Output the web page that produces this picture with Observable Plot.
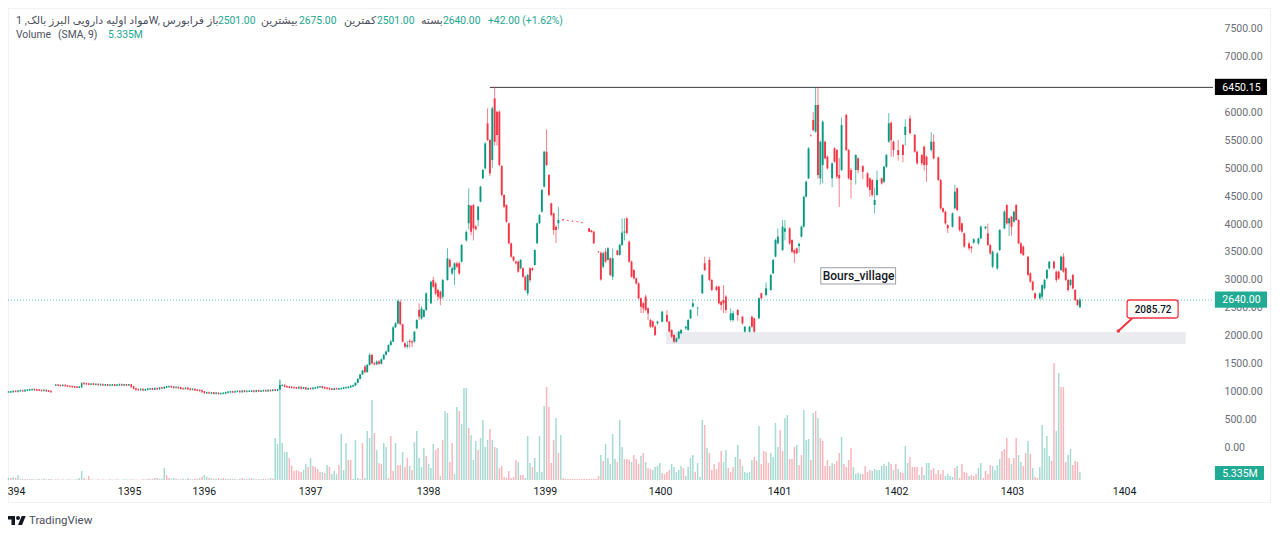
<!DOCTYPE html>
<html lang="fa"><head><meta charset="utf-8">
<script src="https://cdn.jsdelivr.net/npm/d3@7"></script>
<script src="https://cdn.jsdelivr.net/npm/@observablehq/plot@0.6"></script>
<style>
html,body{margin:0;background:#fff;font-family:Roboto,"Noto Sans","DejaVu Sans",sans-serif}
#page{position:relative;width:1280px;height:534px;overflow:hidden}
#frame{position:absolute;left:8px;top:8px;width:1263px;height:495px;border:1px solid #f0f2f5;box-sizing:border-box}
.h{position:absolute;font-size:10.3px;line-height:12px;white-space:nowrap;color:#4c505c;unicode-bidi:isolate;z-index:3}
.fa{font-size:10.9px}
.v{color:#22a68f}
#logo{position:absolute;left:8px;top:513px;display:flex;align-items:center;color:#4a4e5a;font-size:11.5px;z-index:3}
</style></head><body>
<div id="page"><div id="frame"></div>
<div class="h fa" style="left:16px;top:15px;direction:ltr">مواد اولیه دارویی البرز بالک, 1W, فرابورس</div>
<div class="h fa" style="left:207px;top:15px">باز</div><div class="h v" style="left:218px;top:15px">2501.00</div>
<div class="h fa" style="left:261px;top:15px">بیشترین</div><div class="h v" style="left:299px;top:15px">2675.00</div>
<div class="h fa" style="left:344px;top:15px">کمترین</div><div class="h v" style="left:377px;top:15px">2501.00</div>
<div class="h fa" style="left:421px;top:15px">بسته</div><div class="h v" style="left:443px;top:15px">2640.00</div>
<div class="h v" style="left:488px;top:15px">+42.00 (+1.62%)</div>
<div class="h" style="left:16px;top:29px">Volume</div><div class="h" style="left:58px;top:29px">(SMA, 9)</div>
<div class="h v" style="left:108px;top:29px">5.335M</div>
<div id="logo"><svg width="18" height="12" viewBox="0 0 36 24" style="margin-right:3px"><path fill="#131722" d="M14 22H7V11H0V4h14v18zM28 22h-8l7.5-18h8L28 22z"/><circle cx="20" cy="8" r="4" fill="#131722"/></svg>TradingView</div>
</div>
<script>
// Quiet weekly closes, weeks 0-146 (null = no drawn body in this series)
const quietCloses = [
985,990,1000,995,1005,1010,1005,1015,1020,1025,
1030,1025,1020,1015,1010,1015,1005,1000,990,null,
1110,1105,1100,1105,1095,1090,1085,1080,1075,1070,
1075,1140,1135,1130,1125,1130,1120,1125,1115,1120,
1110,1115,1105,1110,1115,1105,1110,1120,1110,1115,
1110,1115,1080,1050,1030,1025,1035,1020,1030,1040,
1045,1035,1050,1040,1060,1055,1070,1080,1085,1075,
1065,1070,1060,1050,1045,1055,1040,1030,1035,1020,
1015,1010,990,970,975,965,970,960,965,955,
960,965,975,985,990,985,995,1000,990,1005,
995,1000,1000,1005,995,1010,1000,1005,1010,1005,
1015,1010,1020,1015,1025,null,1105,1085,1075,1070,
1065,1060,1055,1070,1050,1060,1040,1050,1045,1055,
1060,1075,1080,1065,1055,1050,1040,1035,1045,1040,
1045,1050,1060,1065,1075,1090,1100];

const weeks = [
115,147,148,149,150,151,152,153,154,155,
156,157,158,159,160,161,162,163,164,165,
166,167,168,169,170,171,172,173,174,175,
176,177,179,180,181,182,183,184,186,187,
188,189,190,191,192,194,195,196,197,198,
199,200,201,202,203,204,205,206,207,208,
209,210,211,212,213,214,215,216,217,218,
219,220,221,222,223,224,225,226,227,228,
229,230,231,232,233,235,237,239,241,243,
246,247,248,250,251,252,253,254,255,256,
258,259,260,261,262,263,264,265,266,267,
268,269,270,271,272,273,274,275,277,279,
280,281,282,283,284,285,287,288,289,290,
292,294,295,297,298,300,301,302,303,304,
306,307,309,311,312,314,315,316,318,319,
321,323,324,325,326,328,329,331,332,333,
334,335,336,337,338,339,340,341,342,343,
344,345,346,347,349,350,351,352,353,355,
356,357,359,360,362,364,365,366,367,368,
370,371,372,373,374,375,377,379,380,382,
384,385,387,388,389,391,392,394,395,396,
397,398,400,401,402,403,404,405,407,408,
409,411,412,414,415,416,417,419,420,422,
423,424,425,426,427,428,429,430,432,433,
434,435,437,438,439,440,441,443,444,445,
446,447,448,449,450,451,452,453,454];
const opens = [
1030,1100,1150,1220,1300,1440,1340,1470,1650,1500,
1480,1530,1490,1570,1650,1707,1827,1887,2143,2215,
2600,2197,1857,1797,1900,1890,1887,2125,2454,2300,
2330,2454,2573,2990,2930,2810,2780,2690,2990,3350,
3110,3170,3290,3290,3320,3700,4006,4320,4335,3950,
4066,4394,4812,4991,5797,5498,5140,6245,6006,6006,
5033,4513,4334,4006,3648,3409,3320,3320,3200,3200,
3050,2752,3200,3200,3260,3648,4006,4215,4663,5289,
4872,4364,4185,3946,4006,4080,4060,4050,4040,4020,
3916,3880,3856,3500,3480,3230,3498,3350,3380,3050,
3518,3440,3618,3840,4095,3677,3320,3170,3020,2930,
2663,2573,2692,2484,2275,2250,2155,2215,2245,2364,
2245,2096,2006,1887,1946,2036,2125,2096,2305,2514,
2484,2752,3290,3349,2991,2872,2872,2603,2633,2692,
2275,2275,2454,2334,2066,2066,2334,2304,2304,2752,
2722,2812,3110,3409,3647,3528,3856,3916,3707,3528,
3558,3600,3767,3946,4483,4812,5588,5856,5648,6125,
4812,5050,5468,5200,4812,5349,5319,4872,4961,5946,
5319,4961,4961,5170,5030,4902,4812,4782,4334,4513,
4812,4752,5021,5468,5809,5468,5319,5409,5588,5886,
5588,5289,5230,5379,5200,5319,5468,5188,4782,4275,
4215,3976,3946,4275,4633,4125,4006,3827,3647,3588,
3660,3647,3737,3916,3826,3618,3230,3200,3528,3916,
4334,4006,4125,4036,4334,4066,3647,3588,3409,3110,
2961,2752,2663,2692,2842,3021,3200,3319,3140,3140,
3170,3409,3200,2991,2901,3080,2812,2633,2501];
const closes = [
1110,1150,1220,1300,1370,1340,1470,1650,1500,1480,
1530,1490,1570,1650,1710,1827,1890,2143,2215,2615,
2200,1887,1797,1830,1880,1870,2065,2275,2334,2480,
2454,2752,2960,2870,2750,2690,2660,2990,3380,3230,
3200,3290,3230,3110,3618,3850,4335,3856,3916,3900,
4305,4662,4961,5439,5498,4901,6065,5468,5588,5051,
4513,4304,4036,3648,3409,3340,3290,3140,3350,3050,
2812,3080,2990,3170,3528,4006,4155,4603,5289,5050,
4513,4155,3886,3886,4066,4060,4050,4040,4030,4010,
3856,3850,3648,3490,3000,3470,3320,3558,3080,3380,
3440,3620,3840,3860,3830,3320,3050,3020,2930,2663,
2513,2484,2454,2394,2155,2155,2006,2245,2424,2245,
2066,1976,1887,1946,2066,2096,2155,2275,2454,2573,
2495,3080,3170,2991,2812,2812,2573,2543,2573,2454,
2394,2394,2364,2215,2155,2155,2155,2066,2663,2663,
2842,3080,3349,3707,3767,3946,3916,3647,3498,3468,
3468,3640,3946,4483,4752,5349,5580,5677,6125,4872,
5468,5827,5170,4991,5080,5110,4842,4812,5767,5319,
4812,4782,5230,4961,4931,4663,4603,4513,4424,4782,
4722,5021,5230,5797,5498,5319,5230,5230,5737,5618,
5289,5080,5080,5050,5050,5468,5170,4782,4275,4215,
4006,3916,4185,4573,4245,3886,3856,3588,3558,3558,
3720,3737,3946,3946,3618,3468,3498,3468,3886,4215,
4006,4095,3946,4215,4066,3647,3468,3439,3080,2961,
2812,2663,2752,2901,2991,3170,3319,3200,2991,3021,
3409,3140,2991,2812,2991,2842,2633,2543,2640];
const highs = [
1210,1160,1230,1310,1380,1470,1490,1680,1670,1520,
1550,1560,1590,1670,1730,1840,1920,2170,2240,2640,
2640,2210,1880,1900,1930,1920,2080,2290,2573,2520,
2470,2770,2980,3050,2960,2840,2800,3010,3560,3380,
3230,3310,3320,3320,3640,3880,4633,4340,4350,3980,
4320,4680,4980,5460,6065,5520,6100,6450,6020,6030,
5050,4530,4350,4020,3660,3420,3340,3340,3370,3220,
3070,3100,3220,3220,3540,4020,4170,4620,5310,5690,
4890,4380,4200,3970,4304,4085,4065,4055,4045,4025,
3925,3890,3870,3510,3500,3500,3560,3580,3400,3560,
3530,3640,4095,4095,4120,3700,3340,3190,3040,2950,
2680,2600,2730,2500,2300,2270,2180,2260,2440,2450,
2260,2110,2020,1960,2080,2110,2170,2290,2470,2650,
2510,3100,3410,3400,3010,2890,2890,2620,2900,2720,
2484,2440,2470,2350,2170,2170,2350,2320,2680,2770,
2950,3100,3370,3730,3916,4066,4066,3940,3720,3540,
3570,3660,3970,4500,4770,5370,5600,6000,6450,6450,
5490,5850,5490,5220,5100,5370,5340,5180,5900,5970,
5340,5000,5240,5190,5050,4920,4830,4800,4650,4950,
4830,5040,5250,5980,5830,5490,5500,5430,5870,5940,
5610,5310,5250,5400,5220,5640,5600,5200,4800,4290,
4230,3990,4200,4700,4650,4140,4020,3840,3680,3600,
3740,3750,3970,3960,4000,3640,3520,3490,3900,4240,
4350,4110,4140,4230,4350,4080,3670,3610,3420,3130,
2980,2770,2770,2910,3010,3190,3330,3340,3160,3160,
3430,3470,3220,3010,3010,3100,2830,2650,2675];
const lows = [
1020,1090,1140,1210,1290,1320,1330,1460,1480,1460,
1470,1470,1480,1560,1640,1700,1810,1880,2130,2200,
2180,1870,1770,1760,1780,1790,1870,2110,2275,2280,
2320,2440,2560,2850,2720,2630,2540,2650,2980,3210,
3080,2900,3200,3080,3300,3680,3900,3790,3700,3880,
3950,4380,4800,4970,5480,4850,5000,5400,5400,5030,
4490,4280,4010,3630,3390,3320,3270,3120,3180,3030,
2790,2710,2950,3150,3250,3640,3990,4200,4650,5030,
4490,4130,3800,3650,3900,4055,4045,4035,4025,4005,
3850,3840,3640,3480,2980,3200,3300,3340,3060,2990,
3430,3430,3600,3700,3810,3300,3030,3000,2910,2640,
2400,2400,2430,2270,2130,2130,1990,2190,2230,2230,
2050,1950,1860,1870,1930,2020,2100,2080,2290,2500,
2350,2740,3150,2970,2790,2790,2550,2450,2400,2400,
2250,2240,2260,2190,2050,2050,2140,2050,2290,2640,
2700,2800,3100,3400,3630,3510,3700,3620,3470,3300,
3450,3480,3750,3930,4470,4800,5560,5650,5630,4800,
4700,4720,5150,4970,4650,5090,4800,4300,4940,5300,
4790,4450,4700,4900,4800,4640,4480,4480,4185,4500,
4700,4730,5000,5450,5200,5200,5130,5100,5400,5600,
5270,5060,5040,4950,4750,5290,5150,4760,4250,4190,
3980,3830,3930,4260,4220,3860,3830,3570,3520,3480,
3640,3620,3720,3900,3600,3440,3200,3170,3510,3900,
3980,3780,3790,4020,4050,3630,3450,3420,3060,2940,
2790,2640,2640,2640,2820,3000,3180,3180,2950,2990,
3150,3120,2970,2780,2880,2820,2610,2520,2501];

// Volume in millions, one per week from week 0
const volumes = [
.3,.3,.45,.3,.75,.15,.15,.1,.15,.1,
.15,.1,.1,.15,.1,.2,.1,.15,.15,.05,
.1,.1,.05,.1,.05,.1,.1,.05,.1,.1,
.3,1.35,.3,.1,.6,.1,.05,.05,.1,.05,
.1,.05,.05,.1,.05,.05,.1,.05,.05,.1,
.1,.05,.1,.1,.05,.05,.05,.1,.1,.15,
.2,.2,.3,.3,.2,.2,1.8,.75,.3,.2,
.3,.2,.1,.1,.2,.1,.3,.15,.1,.2,
.2,.3,.5,.75,.5,.3,.3,.2,.2,.3,
.2,.3,.2,.15,.2,.15,.2,.1,.15,.3,
.2,.15,.2,.3,.2,.1,.15,.1,.2,.1,
.1,.3,.2,
6.3,5.4,15,5.55,4.2,4.2,3.3,2.1,1.35,1.5,
1.35,1.2,1.5,2.4,1.95,3.3,2.1,1.95,1.65,1.2,
1.2,1.05,2.25,1.95,.9,1.35,.9,2.25,6.9,1.5,
5.55,3,3,.15,6,.3,.15,5.55,.3,7.35,
6.3,12,7.05,4.5,2.55,2.4,5.55,4.95,.3,6.6,
1.35,5.55,2.25,2.25,4.2,1.95,3.3,2.1,1.5,5.7,
7.35,3.3,1.95,4.8,3.6,2.4,1.8,5.4,4.5,4.8,
.6,6,10.35,10.05,2.7,5.55,.9,10.95,10.35,8.4,
13.8,13.8,7.8,6.75,3,5.85,4.5,6.3,9,4.95,
6,7.65,6,4.95,4.8,1.8,2.1,.45,.3,1.35,
.3,.45,3,2.7,.75,.75,.3,6.6,2.55,1.95,
3.3,1.2,6.6,1.2,11.1,13.95,10.95,2.55,6,9.3,
4.05,6.75,.3,
.15,.15,.15,.15,.15,.15,.15,.15,.15,.15,.15,.15,.15,.15,
.6,3.75,2.85,5.4,3.3,2.4,6.9,3.15,2.7,9,
4.95,3.15,3.15,3,2.7,3.75,3.15,2.4,
3.6,4.05,2.7,1.8,1.65,1.5,1.95,2.1,2.55,1.05,
.9,1.2,1.5,2.4,1.95,1.2,1.5,2.1,1.8,.6,
1.95,3.3,3.75,1.2,2.55,.45,9,8.25,4.8,4.05,
1.5,2.4,1.65,2.7,4.35,2.7,4.5,1.8,1.2,1.95,
3.45,5.25,3.15,2.1,1.2,1.05,1.2,3,3.45,2.85,
8.1,2.4,4.35,4.2,2.55,4.05,3.45,8.55,4.95,7.5,
4.35,9.3,9.75,3.15,3.15,4.95,5.25,2.25,3.75,10.5,
6,6.15,3,10.05,10.35,9.3,6.3,5.85,2.1,3,
2.1,2.55,2.4,2.85,4.05,6.45,2.4,1.95,3,4.8,
1.95,.9,1.05,.9,.9,2.1,1.2,1.5,1.35,1.65,
1.5,1.5,2.1,2.4,2.1,2.7,2.4,1.5,2.4,1.65,
1.2,1.05,5.1,2.55,3.45,1.95,1.95,1.95,.75,1.95,
.75,2.55,2.55,1.5,1.8,.9,1.5,.9,1.5,.6,
.9,.6,.45,1.8,2.1,.3,2.4,1.2,1.05,.6,
.75,.6,.9,1.8,2.55,.3,1.35,.9,2.25,2.1,
1.5,2.25,3.15,4.35,4.65,6.3,3.3,2.4,3.3,6.3,
3.75,2.7,2.1,4.05,5.85,3.9,1.8,.45,.3,1.95,
8.25,4.8,6.6,3.6,2.85,17.55,7.35,16.05,13.95,13.95,
2.7,3.75,4.65,2.25,2.85,2.7,1.2];
// g = up week, r = down week, one letter per week
const volumeSides = [
"grgrgrgrgr","rgrgrgrgrg","grgrgrgrgr","ggrgrgrgrg","rgrgrgrgrg","grgrgrgrgr",
"rgrgrggrrg","grgrgrgrgr","rgrggrgrgr","grgrgrgrgr","grgrgrgrgr","rgr",
"ggggggrrrr","rrggrgrrrr","grgrgggrgg","grrgggrrgg","ggrgrrggrr","rgrrgrrgrg",
"ggggrgggrr","grggrrggrg","ggrgggrggg","grgrgrrrrr","rrrgrrgggr","gggggrrrrg",
"rgr","rrrrrrrrrrrrrr","rgrgggggrg","grrrgrrr",
"grgrrggggr","rrrgggggrg","gggrgggrgr","rrrrrggrrr","ggrgggggrr","grrrrggggr",
"rggrrrgrrg","ggrgrgrrrr","rgrrrgrrrr","ggggrrrrgg","ggggggrgrg","rrggrrrrgr",
"gggrrrrrrg","gggrgrrrrg","rrrggrrrrg","gggrrrrgrr","ggrrgrgrrg","ggggrrggrr","rggrrrg"
].join("").split("");

const yearWeeks = [3.4,51.3,83,128,178,227.5,276.3,326.7,376.3,425.4,472.9];
const yearLabels = ["394","1395","1396","1397","1398","1399","1400","1401","1402","1403","1404"];
const priceTicks = [0,500,1000,1500,2000,2500,3000,3500,4000,4500,5000,5500,6000,7000,7500];
const lastClose = 2640, peak = 6450.15, calloutPrice = 2085.72, lastSma = 5.335;

const GREEN="#089981", RED="#f23645", TEAL="#22ab94", FONT='Roboto,"Noto Sans",sans-serif';
const quiet = quietCloses.map((c,i)=>({w:i,c,o:quietCloses[i-1]??c})).filter(d=>d.c!=null);
const candles = weeks.map((w,i)=>({w,o:opens[i],c:closes[i],h:highs[i],l:lows[i]}));
const vol = volumes.map((v,i)=>({w:i,v,s:volumeSides[i]}));
const xDomain=[0,510.6], tagL=511.4, tagR=533.5;
const col = d=>d.c>=d.o?GREEN:RED;
const base = {width:1280,height:534,marginLeft:8,marginRight:67,marginTop:8,style:{position:"absolute",left:0,top:0,background:"none",fontFamily:FONT,overflow:"visible"}};

const volPlot = Plot.plot({...base,marginBottom:54,
  x:{domain:xDomain,axis:null},
  y:{domain:[0,70.8],axis:null},
  marks:[
    Plot.ruleX(vol,{x:"w",y1:0,y2:"v",strokeWidth:1.5,stroke:d=>d.s==="g"?GREEN:RED,strokeOpacity:.36}),
    Plot.axisX({ticks:yearWeeks,tickFormat:d=>yearLabels[yearWeeks.indexOf(d)],tickSize:0,tickPadding:7,fontSize:10.5,fill:"#131722",label:null,anchor:"bottom"}),
    Plot.rect([0],{x1:tagL,x2:tagR-1.3,y1:0,y2:14*0.15,fill:TEAL}),
    Plot.text([lastSma],{x:(tagL+tagR-1.3)/2,y:7*0.15,text:d=>d+"M",fill:"#fff",fontSize:10.5})
  ]});

const pricePlot = Plot.plot({...base,marginBottom:31,
  x:{domain:xDomain,axis:null},
  y:{domain:[-1003,7863],axis:null},
  marks:[
    Plot.axisY({ticks:priceTicks,tickFormat:d=>d.toFixed(2),anchor:"right",tickSize:0,tickPadding:11,fontSize:10.5,fill:"#6a6d78",label:null,textAnchor:"start"}),
    Plot.rect([0],{x1:278.8,x2:499,y1:1845,y2:2060,fill:"#e9ebee"}),
    Plot.ruleY([lastClose],{x1:0,x2:510.6,stroke:TEAL,strokeDasharray:"1,2",strokeOpacity:.7}),
    Plot.ruleY([peak],{x1:204.2,x2:510.6,stroke:"#3a3c42",strokeWidth:1}),
    Plot.ruleX(quiet,{x:"w",y1:"o",y2:"c",stroke:col,strokeWidth:1.5,strokeLinecap:"square"}),
    Plot.ruleX(candles,{x:"w",y1:"l",y2:"h",stroke:col,strokeWidth:.8,strokeOpacity:.8}),
    Plot.ruleX(candles,{x:"w",y1:"o",y2:"c",stroke:col,strokeWidth:1.9}),
    Plot.rect([0],{x1:344.4,x2:376.1,y1:2920,y2:3211,fill:"#fff",stroke:"#9a9ea8",strokeWidth:1}),
    Plot.text(["Bours_village"],{x:360.2,y:3066,text:d=>d,fontSize:12,fontWeight:500,fill:"#131722"}),
    Plot.link([0],{x1:470.3,y1:calloutPrice,x2:476.5,y2:2330,stroke:RED,strokeWidth:2}),
    Plot.dot([calloutPrice],{x:470.3,y:d=>d,r:1.8,fill:RED}),
    Plot.rect([0],{x1:474.2,x2:495.8,y1:2311,y2:2633,fill:"#fff",stroke:RED,strokeWidth:1.3,rx:2.5}),
    Plot.text([calloutPrice],{x:485,y:2472,text:d=>d.toFixed(2),fontSize:10,fontWeight:500,fill:"#131722"}),
    Plot.rect([0],{x1:tagL,x2:tagR,y1:6305,y2:6595,fill:"#000"}),
    Plot.text([peak],{x:(tagL+tagR)/2,y:6450,text:d=>d.toFixed(2),fill:"#fff",fontSize:10.5}),
    Plot.rect([0],{x1:tagL,x2:tagR,y1:2495,y2:2785,fill:TEAL}),
    Plot.text([lastClose],{x:(tagL+tagR)/2,y:2640,text:d=>d.toFixed(2),fill:"#fff",fontSize:10.5})
  ]});

document.getElementById("page").append(volPlot,pricePlot);
</script></body></html>
